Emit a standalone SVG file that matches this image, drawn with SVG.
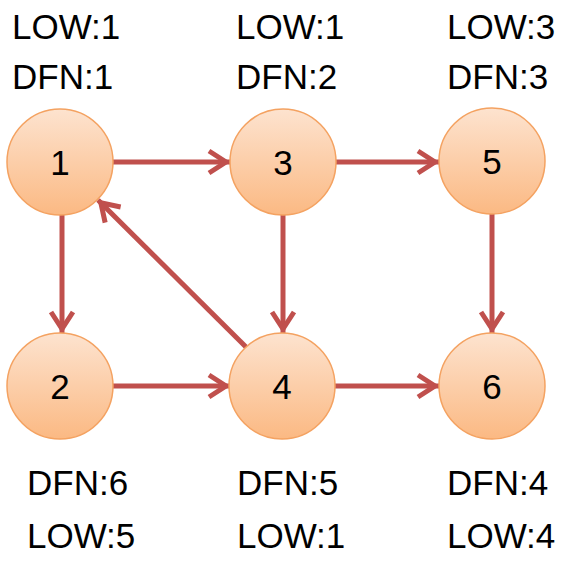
<svg xmlns="http://www.w3.org/2000/svg" width="572" height="561" viewBox="0 0 572 561">
<style>
.lbl{font-family:"Liberation Sans",Arial,sans-serif;font-size:35px;fill:#000}
.num{font-family:"Liberation Sans",Arial,sans-serif;font-size:35px;fill:#000;text-anchor:middle}
.node{fill:url(#g);stroke:#f4a261;stroke-width:1.5}
.edge{stroke:#c0504d;stroke-width:5;fill:none;marker-end:url(#arr)}
</style>
<defs>
<linearGradient id="g" x1="0" y1="0" x2="0" y2="1">
<stop offset="0" stop-color="#fde3cf"/>
<stop offset="1" stop-color="#fbb983"/>
</linearGradient>
<marker id="arr" markerUnits="userSpaceOnUse" viewBox="-24 -14 28 28" refX="0" refY="0" markerWidth="28" markerHeight="28" orient="auto" overflow="visible">
<path d="M-21,-11 L-4,0 L-21,11" fill="none" stroke="#c0504d" stroke-width="5" stroke-linejoin="miter"/>
</marker>
</defs>
<rect width="572" height="561" fill="#fff"/>
<g id="connectors">
<line class="edge" x1="113" y1="162" x2="230" y2="162"/>
<line class="edge" x1="336" y1="162" x2="439" y2="162"/>
<line class="edge" x1="62" y1="215" x2="62" y2="333"/>
<line class="edge" x1="283" y1="215" x2="283" y2="333"/>
<line class="edge" x1="492" y1="214" x2="492" y2="333"/>
<line class="edge" x1="113" y1="386" x2="230" y2="386"/>
<line class="edge" x1="335" y1="386" x2="439" y2="386"/>
<line class="edge" x1="246" y1="347" x2="98" y2="200"/>
</g>
<g id="node1"><circle class="node" cx="60" cy="162" r="53"/><text class="num" x="60" y="175">1</text></g>
<g id="node3"><circle class="node" cx="283" cy="162" r="53"/><text class="num" x="283" y="175">3</text></g>
<g id="node5"><circle class="node" cx="492" cy="161" r="53"/><text class="num" x="492" y="174">5</text></g>
<g id="node2"><circle class="node" cx="60" cy="386" r="53"/><text class="num" x="60" y="399">2</text></g>
<g id="node4"><circle class="node" cx="282" cy="386" r="53"/><text class="num" x="282" y="399">4</text></g>
<g id="node6"><circle class="node" cx="492" cy="386" r="53"/><text class="num" x="492" y="399">6</text></g>
<g id="labels">
<text class="lbl" x="12" y="39">LOW:1</text>
<text class="lbl" x="12" y="89">DFN:1</text>
<text class="lbl" x="236" y="39">LOW:1</text>
<text class="lbl" x="236" y="89">DFN:2</text>
<text class="lbl" x="447" y="39">LOW:3</text>
<text class="lbl" x="447" y="89">DFN:3</text>
<text class="lbl" x="27" y="495">DFN:6</text>
<text class="lbl" x="27" y="548">LOW:5</text>
<text class="lbl" x="237" y="495">DFN:5</text>
<text class="lbl" x="237" y="548">LOW:1</text>
<text class="lbl" x="447" y="495">DFN:4</text>
<text class="lbl" x="447" y="548">LOW:4</text>
</g>
</svg>
